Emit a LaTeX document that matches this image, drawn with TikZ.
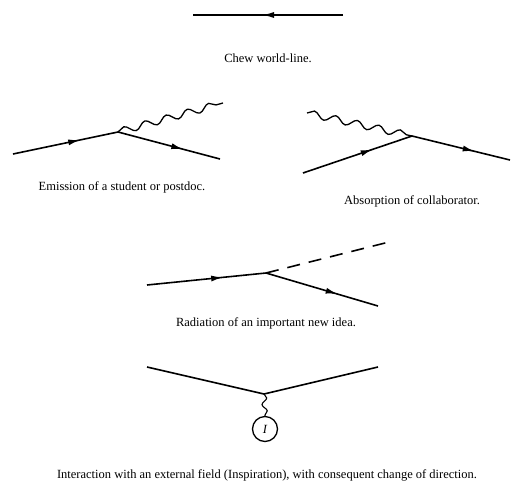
\documentclass[tikz,border=0pt]{standalone}
\usepackage{fontspec}
\setmainfont{Liberation Serif}
\usetikzlibrary{arrows.meta, decorations.pathmorphing, decorations.markings}
\tikzset{
  fermion/.style={
    line width=1.6pt,
    postaction={decorate},
    decoration={markings, mark=at position #1 with {\arrow{Latex[length=12pt,width=6pt]}}}
  },
  fermion/.default=0.64,
  photon/.style={
    line width=1.3pt,
    decorate, decoration={snake, amplitude=3.5pt, segment length=22pt}
  },
  idea/.style={
    line width=1.6pt, dash pattern=on 13pt off 9pt
  },
  caption/.style={
    font=\fontsize{12.5}{15}\selectfont, inner sep=0pt
  },
  source/.style={
    circle, draw, line width=1.3pt, minimum size=25pt, inner sep=0pt, font=\itshape\fontsize{12.5}{15}\selectfont
  }
}
\begin{document}
\begin{tikzpicture}[x=1pt,y=-1pt]
  \useasboundingbox (0,0) rectangle (511,485);
  % Chew world-line
  \coordinate (chew-a) at (193,15);
  \coordinate (chew-b) at (343,15);
  \draw[fermion=0.54] (chew-b) -- (chew-a);
  \node[caption] (chew) at (268,58) {Chew world-line.};
  % emission
  \coordinate (emit-in) at (13,154);
  \coordinate (emit-v) at (118,132);
  \coordinate (emit-out) at (220,159);
  \coordinate (emit-w) at (223,103);
  \draw[fermion] (emit-in) -- (emit-v);
  \draw[fermion] (emit-v) -- (emit-out);
  \draw[photon] (emit-v) -- (emit-w);
  \node[caption] (emit) at (122,187) {Emission of a student or postdoc.};
  % absorption
  \coordinate (abs-in) at (303,173);
  \coordinate (abs-v) at (412,136);
  \coordinate (abs-out) at (510,160);
  \coordinate (abs-w) at (307,113);
  \draw[fermion] (abs-in) -- (abs-v);
  \draw[fermion] (abs-v) -- (abs-out);
  \draw[photon] (abs-w) -- (abs-v);
  \node[caption] (abs) at (412,201) {Absorption of collaborator.};
  % radiation of an idea
  \coordinate (rad-in) at (147,285);
  \coordinate (rad-v) at (266,273);
  \coordinate (rad-out) at (378,306);
  \coordinate (rad-w) at (389,242);
  \draw[fermion] (rad-in) -- (rad-v);
  \draw[fermion] (rad-v) -- (rad-out);
  \draw[idea] (rad-v) -- (rad-w);
  \node[caption] (rad) at (266,323) {Radiation of an important new idea.};
  % inspiration
  \coordinate (insp-l) at (147,367);
  \coordinate (insp-v) at (264,394);
  \coordinate (insp-r) at (378,367);
  \node[source] (field) at (265,429) {I};
  \draw[line width=1.6pt] (insp-l) -- (insp-v) -- (insp-r);
  \draw[line width=1.1pt, decorate, decoration={snake, amplitude=2.5pt, segment length=13pt}] (insp-v) -- (field.north);
  \node[caption] (insp) at (267,475) {Interaction with an external field (Inspiration), with consequent change of direction.};
\end{tikzpicture}
\end{document}
